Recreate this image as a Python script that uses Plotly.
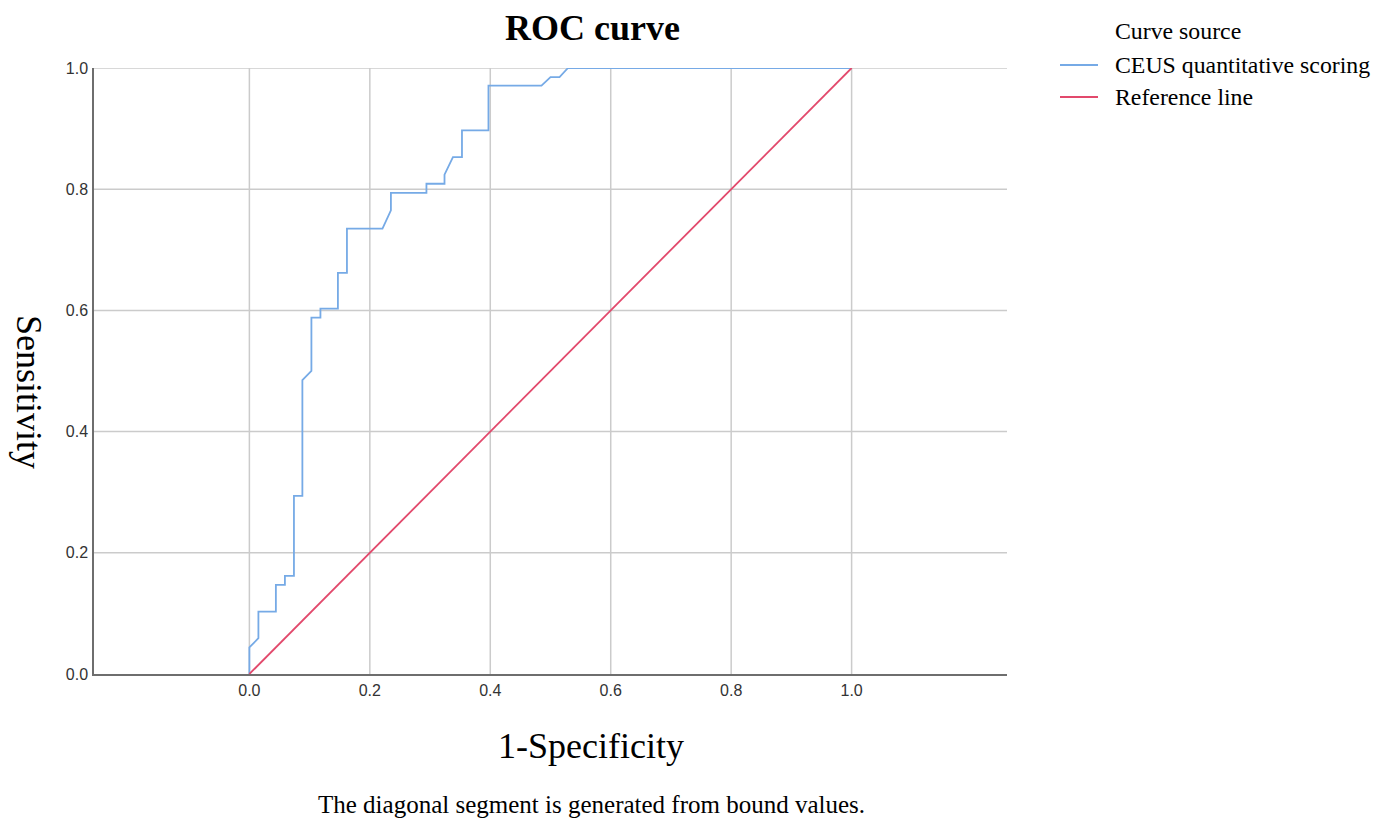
import plotly.graph_objects as go

# ROC curve (1 - specificity, sensitivity)
fpr = [0.000, 0.000, 0.015, 0.015, 0.044, 0.044, 0.059, 0.059, 0.074, 0.074,
       0.088, 0.088, 0.103, 0.103, 0.118, 0.118, 0.147, 0.147, 0.162, 0.162,
       0.221, 0.235, 0.235, 0.294, 0.294, 0.324, 0.324, 0.338, 0.353, 0.353,
       0.397, 0.397, 0.485, 0.500, 0.515, 0.529, 1.000]
tpr = [0.000, 0.044, 0.059, 0.103, 0.103, 0.147, 0.147, 0.162, 0.162, 0.294,
       0.294, 0.485, 0.500, 0.588, 0.588, 0.603, 0.603, 0.662, 0.662, 0.735,
       0.735, 0.765, 0.794, 0.794, 0.809, 0.809, 0.824, 0.853, 0.853, 0.897,
       0.897, 0.971, 0.971, 0.985, 0.985, 1.000, 1.000]
ref_x = [0, 1]
ref_y = [0, 1]
ticks = [0.0, 0.2, 0.4, 0.6, 0.8, 1.0]
tick_text = ["0.0", "0.2", "0.4", "0.6", "0.8", "1.0"]
legend_names = ["CEUS quantitative scoring", "Reference line"]

SERIF = "Liberation Serif, Times New Roman, serif"
SANS = "Liberation Sans, Arial, sans-serif"
BLUE = "#76AAE6"
RED = "#E2496C"
GRID = "#CBCBCB"
colors = [BLUE, RED]

# page is drawn with the browser's 8px body margin, so work in page pixels
OFF = 8
W, H = 1375, 812
L, R, T, B = 94, 1007, 68, 674   # plot box in page pixels

fig = go.Figure()
fig.add_trace(go.Scatter(x=fpr, y=tpr, mode="lines", name=legend_names[0],
                         line=dict(color=BLUE, width=1.8), cliponaxis=False))
fig.add_trace(go.Scatter(x=ref_x, y=ref_y, mode="lines", name=legend_names[1],
                         line=dict(color=RED, width=1.8), cliponaxis=False))

# vertical gridlines only span the 0..1 domain, horizontal ones the full width
for t in ticks:
    fig.add_shape(type="line", x0=t, x1=t, y0=0, y1=1, xref="x", yref="y",
                  line=dict(color=GRID, width=1.5), layer="below")
for t in ticks[1:]:
    fig.add_shape(type="line", x0=0, x1=1, y0=t, y1=t, xref="paper", yref="y",
                  line=dict(color=GRID, width=1.5), layer="below")

axis_style = dict(tickvals=ticks, ticktext=tick_text, showgrid=False, zeroline=False,
                  showline=True, linecolor="#6E6E6E", linewidth=1.5, ticks="",
                  tickfont=dict(family=SANS, size=16, color="#333333"))
fig.update_xaxes(range=[-0.258, 1.258], ticklabelstandoff=1, **axis_style)
fig.update_yaxes(range=[0, 1.0], ticklabelstandoff=1, **axis_style)


def px(x, y):
    return (x - L) / (R - L), (B - y) / (B - T)


def note(text, x, y, size, angle=0, xanchor="center"):
    ax, ay = px(x, y)
    fig.add_annotation(text=text, x=ax, y=ay, xref="paper", yref="paper", showarrow=False,
                       textangle=angle, xanchor=xanchor, yanchor="middle",
                       font=dict(family=SERIF, size=size, color="#000000"))


note("<b>ROC curve</b>", 592, 28, 36)
note("1-Specificity", 591, 746, 36)
note("Sensitivity", 29, 392, 36, angle=90)
note("The diagonal segment is generated from bound values.", 591, 804, 25)

# legend drawn by hand so the key/text spacing matches
note("Curve source", 1113, 31, 23.8, xanchor="left")
for i, (name, col) in enumerate(zip(legend_names, colors)):
    yy = 65 + 32 * i
    x0, y0 = px(1060, yy)
    x1, _ = px(1098, yy)
    fig.add_shape(type="line", x0=x0, x1=x1, y0=y0, y1=y0, xref="paper", yref="paper",
                  line=dict(color=col, width=2))
    note(name, 1113, yy, 23.8, xanchor="left")

fig.update_layout(
    width=W, height=H,
    margin=dict(l=L - OFF, r=W + OFF - R, t=T - OFF, b=H + OFF - B, autoexpand=False),
    paper_bgcolor="white", plot_bgcolor="white",
    showlegend=False,
)
fig.write_html("out.html")
